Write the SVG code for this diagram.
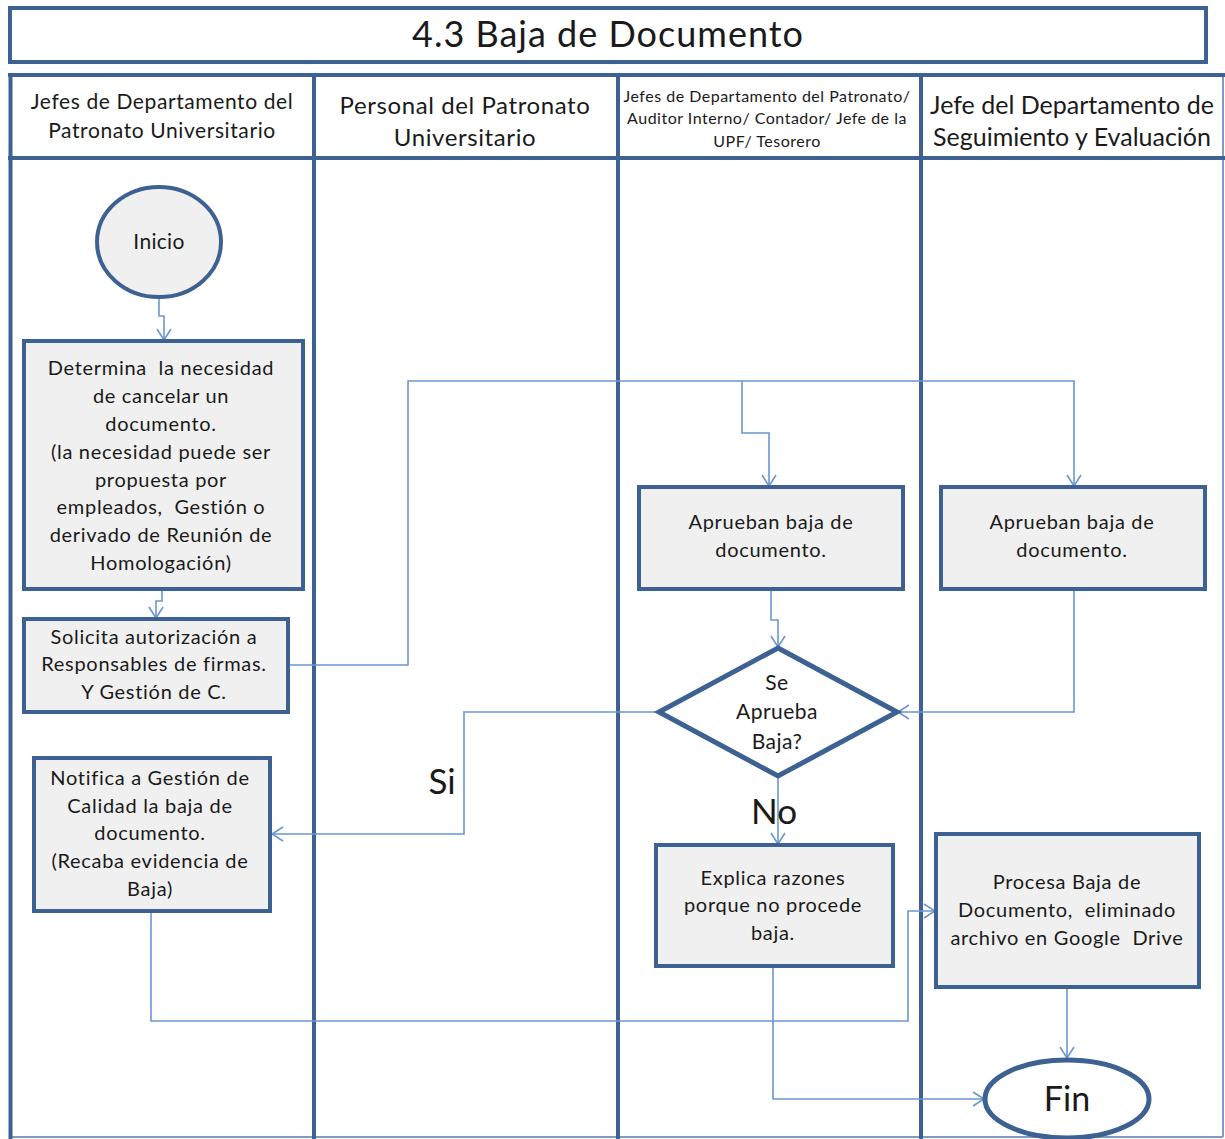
<svg xmlns="http://www.w3.org/2000/svg" width="1225" height="1139" viewBox="0 0 1225 1139">
<style>
.t{font-family:Lato,"Liberation Sans",sans-serif;fill:#1a1a1a;text-anchor:middle;white-space:pre}
.bt{font-size:20px;letter-spacing:0.7px}
.box{fill:#f0f0f0;stroke:#3e6193;stroke-width:4}
.lane{stroke:#3e6193;stroke-width:4;fill:none}
.thin{stroke:#7a9cc6;stroke-width:2;fill:none}
.c{stroke:#6b97d0;stroke-width:1.6;fill:none;marker-end:url(#ah)}
</style>
<defs>
<marker id="ah" markerWidth="14" markerHeight="18" refX="12" refY="8" orient="auto" markerUnits="userSpaceOnUse">
<path d="M1,1 L12,8 L1,15" fill="none" stroke="#6b97d0" stroke-width="1.6"/>
</marker>
</defs>
<rect width="1225" height="1139" fill="#fff"/>
<g id="title">
<rect x="10" y="8" width="1196" height="54" fill="#fff" stroke="#3e6193" stroke-width="4"/>
<text class="t" x="608" y="47" font-size="36" letter-spacing="1">4.3 Baja de Documento</text>
</g>
<g id="lanes">
<line class="thin" x1="1223" y1="75" x2="1223" y2="1137"/>
<line class="thin" x1="10" y1="1137" x2="1223" y2="1137"/>
<line class="lane" x1="8" y1="75" x2="1225" y2="75"/>
<line class="lane" x1="8" y1="158" x2="1225" y2="158"/>
<line class="lane" x1="10.5" y1="73" x2="10.5" y2="1139"/>
<line class="lane" x1="314" y1="73" x2="314" y2="1139"/>
<line class="lane" x1="618" y1="73" x2="618" y2="1139"/>
<line class="lane" x1="921" y1="73" x2="921" y2="1139"/>
<text class="t" x="162" y="109" font-size="21" letter-spacing="0.6">Jefes de Departamento del</text>
<text class="t" x="162" y="138" font-size="21" letter-spacing="0.6">Patronato Universitario</text>
<text class="t" x="465" y="114" font-size="24" letter-spacing="0.6">Personal del Patronato</text>
<text class="t" x="465" y="146" font-size="24" letter-spacing="0.6">Universitario</text>
<text class="t" x="767" y="102" font-size="16" letter-spacing="0.5">Jefes de Departamento del Patronato/</text>
<text class="t" x="767" y="124" font-size="16" letter-spacing="0.5">Auditor Interno/ Contador/ Jefe de la</text>
<text class="t" x="767" y="147" font-size="16" letter-spacing="0.5">UPF/ Tesorero</text>
<text class="t" x="1072" y="114" font-size="25">Jefe del Departamento de</text>
<text class="t" x="1072" y="146" font-size="25">Seguimiento y Evaluación</text>
</g>
<g id="connectors">
<polyline class="c" points="159,298 159,316 164,316 164,340"/>
<polyline class="c" points="162,589 162,601 156,601 156,618"/>
<polyline class="c" points="288,665 408,665 408,381 1074,381 1074,486"/>
<polyline class="c" points="742,381 742,433 769,433 769,486"/>
<polyline class="c" points="771,589 771,620 778,620 778,647"/>
<polyline class="c" points="1074,589 1074,712 898,712"/>
<polyline class="c" points="659,712 464,712 464,834 272,834"/>
<polyline class="c" points="778,776 778,844"/>
<polyline class="c" points="151,911 151,1021 908,1021 908,911 935,911"/>
<polyline class="c" points="773,966 773,1099 984,1099"/>
<polyline class="c" points="1067,987 1067,1058"/>
<text class="t" x="442" y="794" font-size="35">Si</text>
<text class="t" x="774" y="824" font-size="35">No</text>
</g>
<g id="inicio">
<ellipse cx="159" cy="242" rx="62" ry="55" fill="#f0f0f0" stroke="#3e6193" stroke-width="4"/>
<text class="t" x="159" y="249" font-size="21" letter-spacing="0.3">Inicio</text>
</g>
<g id="determina">
<rect class="box" x="24" y="341" width="279" height="248"/>
<text class="t bt"><tspan x="161" y="375">Determina  la necesidad</tspan><tspan x="161" y="403">de cancelar un</tspan><tspan x="161" y="431">documento.</tspan><tspan x="161" y="459">(la necesidad puede ser</tspan><tspan x="161" y="487">propuesta por</tspan><tspan x="161" y="514">empleados,  Gestión o</tspan><tspan x="161" y="542">derivado de Reunión de</tspan><tspan x="161" y="570">Homologación)</tspan></text>
</g>
<g id="solicita">
<rect class="box" x="24" y="619" width="264" height="93"/>
<text class="t bt"><tspan x="154" y="644">Solicita autorización a</tspan><tspan x="154" y="671">Responsables de firmas.</tspan><tspan x="154" y="699">Y Gestión de C.</tspan></text>
</g>
<g id="aprueban1">
<rect class="box" x="639" y="487" width="264" height="102"/>
<text class="t bt"><tspan x="771" y="529">Aprueban baja de</tspan><tspan x="771" y="557">documento.</tspan></text>
</g>
<g id="aprueban2">
<rect class="box" x="941" y="487" width="264" height="102"/>
<text class="t bt"><tspan x="1072" y="529">Aprueban baja de</tspan><tspan x="1072" y="557">documento.</tspan></text>
</g>
<g id="decision">
<polygon points="778,648 897,712 778,776 659,712" fill="#fff" stroke="#3e6193" stroke-width="5"/>
<text class="t" font-size="21" letter-spacing="0.5"><tspan x="777" y="690">Se</tspan><tspan x="777" y="719">Aprueba</tspan><tspan x="777" y="749">Baja?</tspan></text>
</g>
<g id="notifica">
<rect class="box" x="34" y="758" width="236" height="153"/>
<text class="t bt"><tspan x="150" y="785">Notifica a Gestión de</tspan><tspan x="150" y="813">Calidad la baja de</tspan><tspan x="150" y="840">documento.</tspan><tspan x="150" y="868">(Recaba evidencia de</tspan><tspan x="150" y="896">Baja)</tspan></text>
</g>
<g id="explica">
<rect class="box" x="656" y="845" width="237" height="121"/>
<text class="t bt"><tspan x="773" y="885">Explica razones</tspan><tspan x="773" y="912">porque no procede</tspan><tspan x="773" y="940">baja.</tspan></text>
</g>
<g id="procesa">
<rect class="box" x="936" y="834" width="263" height="153"/>
<text class="t bt"><tspan x="1067" y="889">Procesa Baja de</tspan><tspan x="1067" y="917">Documento,  eliminado</tspan><tspan x="1067" y="945">archivo en Google  Drive</tspan></text>
</g>
<g id="fin">
<ellipse cx="1067" cy="1099" rx="82" ry="39" fill="#fff" stroke="#3e6193" stroke-width="5"/>
<text class="t" x="1067" y="1111" font-size="34">Fin</text>
</g>
</svg>
